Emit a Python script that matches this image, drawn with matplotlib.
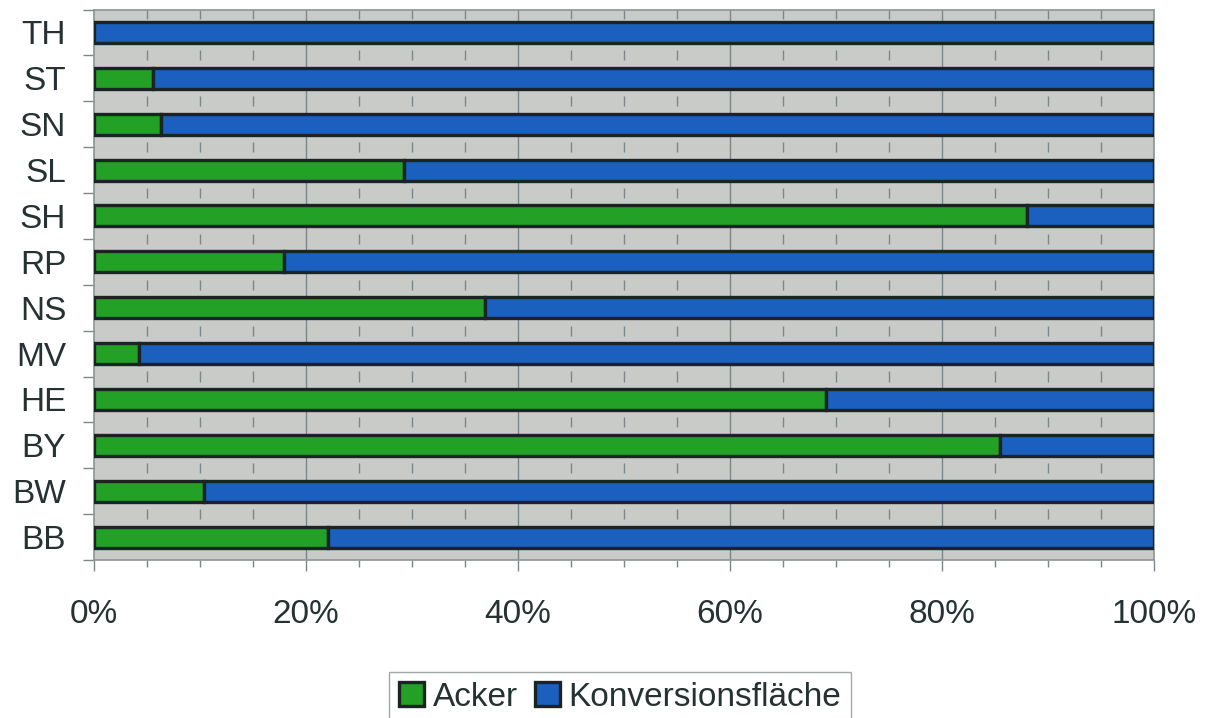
import numpy as np
import matplotlib.pyplot as plt

# Anteil Acker / Konversionsfläche je Bundesland (in %)
laender = ['BB', 'BW', 'BY', 'HE', 'MV', 'NS', 'RP', 'SH', 'SL', 'SN', 'ST', 'TH']
acker = [22.1, 10.4, 85.5, 69.1, 4.2, 36.9, 17.9, 88.0, 29.2, 6.3, 5.6, 0.0]
konversion = [100 - a for a in acker]

x_ticks = [0, 20, 40, 60, 80, 100]
x_tick_labels = ['0%', '20%', '40%', '60%', '80%', '100%']

green = '#22a126'
blue = '#1b5fbf'
edge = '#1a2424'
text_col = '#263232'
grid_col = '#7d8688'

plt.rcParams['font.family'] = ['Liberation Sans', 'DejaVu Sans']

fig = plt.figure(figsize=(12.06, 7.18), dpi=100)
ax = fig.add_axes([94 / 1206, 1 - 560 / 718, 1060 / 1206, 550.5 / 718])
ax.set_facecolor('#c9cbc9')

y = np.arange(len(laender))
bar_h = 0.46
ax.barh(y, acker, height=bar_h, color=green, edgecolor=edge, linewidth=2.4, zorder=3, label='Acker')
ax.barh(y, konversion, left=acker, height=bar_h, color=blue, edgecolor=edge, linewidth=2.4,
        zorder=3, label='Konversionsfläche')

ax.set_xlim(0, 100)
ax.set_ylim(-0.5, len(laender) - 0.5)

# major gridlines
for xv in x_ticks[1:-1]:
    ax.axvline(xv, color=grid_col, linewidth=1, zorder=1)

# short minor marks in the gaps between bars
minor = [m for m in range(5, 100, 5) if m % 20 != 0]
for b in np.arange(0.5, len(laender) - 1, 1.0):
    ax.vlines(minor, b - 0.11, b + 0.11, color=grid_col, linewidth=1, zorder=1)
ax.vlines(minor, len(laender) - 0.5 - 0.2, len(laender) - 0.5, color=grid_col, linewidth=1, zorder=1)

ax.set_xticks(x_ticks)
ax.set_xticklabels(x_tick_labels, fontsize=24, color=text_col)
ax.set_xticks(range(0, 101, 5), minor=True)
ax.tick_params(axis='x', which='major', direction='out', length=8, width=1, color=grid_col, pad=20)
ax.tick_params(axis='x', which='minor', direction='out', length=5, width=1, color=grid_col)

ax.set_yticks(y)
ax.set_yticklabels(laender, fontsize=24, color=text_col)
ax.set_yticks(np.arange(-0.5, len(laender), 1.0), minor=True)
ax.tick_params(axis='y', which='major', length=0, pad=20)
ax.tick_params(axis='y', which='minor', direction='out', length=8, width=1, color=grid_col)

for s in ax.spines.values():
    s.set_color('#8c9494')
    s.set_linewidth(1.2)

leg = fig.legend(loc='lower center', bbox_to_anchor=(620 / 1206, -0.03), ncol=2, fontsize=24,
                 frameon=True, fancybox=False, edgecolor='#8c9494', handlelength=0.75, handleheight=0.75,
                 handletextpad=0.25, columnspacing=0.5, borderpad=0.3)
for t in leg.get_texts():
    t.set_color(text_col)

fig.savefig('out.png', dpi=100)
